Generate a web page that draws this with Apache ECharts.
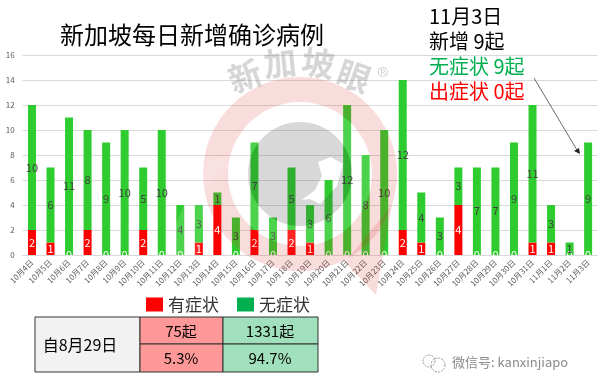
<!DOCTYPE html>
<html>
<head>
<meta charset="utf-8">
<style>html,body{margin:0;padding:0;background:#fff}#chart{width:601px;height:379px}</style>
<script src="https://cdn.jsdelivr.net/npm/echarts@6/dist/echarts.min.js"></script>
</head>
<body>
<div id="chart"></div>
<script>
const days = ['10月4日','10月5日','10月6日','10月7日','10月8日','10月9日','10月10日','10月11日','10月12日','10月13日','10月14日','10月15日','10月16日','10月17日','10月18日','10月19日','10月20日','10月21日','10月22日','10月23日','10月24日','10月25日','10月26日','10月27日','10月28日','10月29日','10月30日','10月31日','11月1日','11月2日','11月3日']
const symptomatic = [2,1,0,2,0,0,2,0,0,1,4,0,2,0,2,1,0,0,0,0,2,1,0,4,0,0,0,1,1,0,0]
const asymptomatic = [10,6,11,8,9,10,5,10,4,3,1,3,7,3,5,3,6,12,8,10,12,4,3,3,7,7,9,11,3,1,9]
const totals = ['75起','1331起']
const shares = ['5.3%','94.7%']

const font = '"Noto Sans CJK SC", sans-serif'
const chart = echarts.init(document.getElementById('chart'), null, { renderer: 'canvas' })

function label(x, y, text, size, color, extra) {
  return { type: 'text', x, y, z: 20, style: Object.assign({ text, fontSize: size, fontFamily: font, fill: color, textVerticalAlign: 'middle' }, extra) }
}
function box(x, y, w, h, fill) {
  return { type: 'rect', z: 20, shape: { x, y, width: w, height: h }, style: { fill, stroke: '#333', lineWidth: 1 } }
}

// grey disc with the white notch cut out, so the bars stay bright inside the notch
const notch = [[322,176],[315,190],[302,200],[310,199],[320,204],[337,186],[343,164],[331,157],[318,162]]
echarts.graphic.registerShape('notchedDisc', echarts.graphic.extendShape({
  buildPath(ctx) {
    ctx.moveTo(352, 174)
    ctx.arc(300, 174, 52, 0, Math.PI * 2, false)
    ctx.closePath()
    notch.forEach((p, i) => i ? ctx.lineTo(p[0], p[1]) : ctx.moveTo(p[0], p[1]))
    ctx.closePath()
  }
}))

// watermark sits over the bars, that is why they look darker inside the ring
const watermark = [
  { type: 'polygon', z: 10, shape: { points: [[345,262],[392,205],[376,295]] }, style: { fill: 'rgba(215,40,40,0.16)' } },
  { type: 'ring', z: 10, shape: { cx: 300, cy: 174, r: 97, r0: 72 }, style: { fill: 'rgba(215,40,40,0.16)' } },
  { type: 'ring', z: 10, shape: { cx: 300, cy: 174, r: 72, r0: 52 }, style: { fill: 'rgba(255,255,255,0.14)' } },
  { type: 'notchedDisc', z: 10, style: { fill: 'rgba(60,60,60,0.2)' } },
  { type: 'polygon', z: 11, shape: { points: [[172,232],[205,160],[240,155],[205,190],[200,255],[172,255]] }, style: { fill: 'rgba(255,255,255,0.14)' } }
]
;[['新',245,76,-20],['加',280,63,-6],['坡',318,63,8],['眼',354,76,20]].forEach(c => {
  watermark.push({ type: 'text', z: 12, x: c[1], y: c[2], rotation: c[3] * -Math.PI / 180,
    style: { text: c[0], fontSize: 33, fontWeight: 'bold', fontFamily: font, fill: 'rgba(120,120,120,0.3)', textAlign: 'center', textVerticalAlign: 'middle' } })
})
watermark.push({ type: 'text', z: 12, x: 383, y: 77, style: { text: '®', fontSize: 24, fontFamily: font, fill: 'rgba(120,120,120,0.3)', textAlign: 'center', textVerticalAlign: 'middle' } })

const notes = [
  label(60, 35, '新加坡每日新增确诊病例', 24, '#000'),
  label(429, 16, '11月3日', 20, '#000'),
  label(429, 41, '新增 9起', 20, '#000'),
  label(429, 66, '无症状 9起', 20, '#00b050'),
  label(429, 91, '出症状 0起', 20, '#ff0000'),
  { type: 'line', z: 20, shape: { x1: 534, y1: 78, x2: 577, y2: 150 }, style: { stroke: '#444', lineWidth: 0.8 } },
  { type: 'polygon', z: 20, shape: { points: [[580,154],[574,151],[579,148]] }, style: { fill: '#222' } }
]

const table = [
  box(35, 317, 105, 55, '#f2f2f2'),
  box(140, 317, 83, 27, '#ff9999'),
  box(223, 317, 95, 27, '#a0e0bc'),
  box(140, 344, 83, 28, '#ff9999'),
  box(223, 344, 95, 28, '#a0e0bc'),
  label(80, 345, '自8月29日', 16, '#000', { textAlign: 'center' }),
  label(181, 331, totals[0], 15, '#000', { textAlign: 'center' }),
  label(270, 331, totals[1], 15, '#000', { textAlign: 'center' }),
  label(181, 358, shares[0], 15, '#000', { textAlign: 'center' }),
  label(270, 358, shares[1], 15, '#000', { textAlign: 'center' })
]

const wechat = [
  { type: 'circle', z: 20, shape: { cx: 429, cy: 361, r: 6 }, style: { fill: 'none', stroke: '#999', lineWidth: 1, lineDash: [2, 1] } },
  { type: 'circle', z: 20, shape: { cx: 438, cy: 365, r: 7 }, style: { fill: 'none', stroke: '#999', lineWidth: 1, lineDash: [2, 1] } },
  label(452, 362, '微信号: kanxinjiapo', 13, '#8a8a8a')
]

chart.setOption({
  animation: false,
  textStyle: { fontFamily: font },
  grid: { left: 22.7, right: 3.6, top: 55, bottom: 124 },
  legend: {
    left: 141, top: 291, itemWidth: 17, itemHeight: 14, itemGap: 18, icon: 'rect',
    textStyle: { fontSize: 17, color: '#333', fontFamily: font },
    data: [
      { name: '有症状', itemStyle: { color: '#ff0000' } },
      { name: '无症状', itemStyle: { color: '#00b050' } }
    ]
  },
  xAxis: {
    type: 'category',
    data: days,
    axisLine: { lineStyle: { color: '#d9d9d9', width: 1 } },
    axisTick: { show: false },
    axisLabel: { interval: 0, rotate: 45, fontSize: 8, color: '#595959', margin: 6 }
  },
  yAxis: {
    type: 'value',
    min: 0,
    max: 16,
    interval: 2,
    axisLine: { show: false },
    axisTick: { show: false },
    axisLabel: { fontSize: 8, color: '#595959', margin: 8 },
    splitLine: { lineStyle: { color: '#d9d9d9', width: 1 } }
  },
  series: [
    {
      name: '有症状', type: 'bar', stack: 'cases', barWidth: 8,
      data: symptomatic,
      itemStyle: { color: '#ff0000' },
      label: { show: true, position: 'inside', color: '#fff', fontSize: 11 }
    },
    {
      name: '无症状', type: 'bar', stack: 'cases', barWidth: 8,
      data: asymptomatic,
      itemStyle: { color: '#2ecc2e' },
      label: { show: true, position: 'inside', color: '#404040', fontSize: 11 }
    }
  ],
  graphic: { elements: [...watermark, ...notes, ...table, ...wechat] }
})
</script>
</body>
</html>
